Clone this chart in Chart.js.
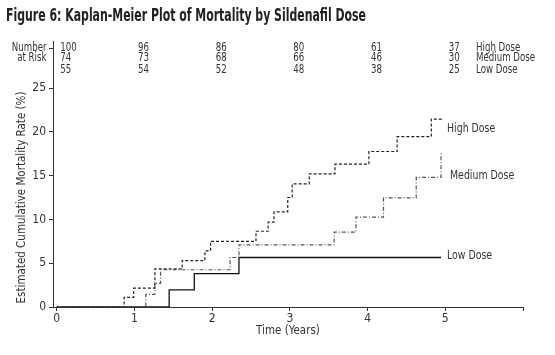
<!DOCTYPE html>
<html>
<head>
<meta charset="utf-8">
<script src="https://cdn.jsdelivr.net/npm/chart.js@4.4.1/dist/chart.umd.min.js"></script>
<style>
  html, body { margin: 0; padding: 0; background: #fff; }
  #wrap { width: 555px; height: 355px; position: relative; }
</style>
</head>
<body>
<div id="wrap"><canvas id="c" width="555" height="355"></canvas></div>
<script>
// ---- Data ----
const highTimes   = [0, 0.867, 0.99, 1.263, 1.615, 1.907, 1.98, 2.564, 2.72, 2.796, 2.973, 3.03, 3.25, 3.58, 4.017, 4.38, 4.82, 4.98];
const highValues  = [0, 1.1, 2.15, 4.35, 5.3, 6.4, 7.5, 8.65, 9.7, 10.85, 12.5, 14.05, 15.2, 16.3, 17.75, 19.45, 21.45, 21.45];
const mediumTimes  = [0, 1.147, 1.263, 1.336, 2.23, 2.345, 3.57, 3.85, 4.205, 4.626, 4.945];
const mediumValues = [0, 1.45, 2.7, 4.25, 5.65, 7.1, 8.55, 10.25, 12.45, 14.8, 17.65];
const lowTimes  = [0, 1.447, 1.77, 2.345, 4.945];
const lowValues = [0, 1.95, 3.8, 5.65, 5.65];

const riskTimes  = [0, 1, 2, 3, 4, 5];
const riskHigh   = [100, 96, 86, 80, 61, 37];
const riskMedium = [74, 73, 68, 66, 46, 30];
const riskLow    = [55, 54, 52, 48, 38, 25];
const seriesNames = ['High Dose', 'Medium Dose', 'Low Dose'];

const xTicks = [0, 1, 2, 3, 4, 5, 6];
const yTicks = [0, 5, 10, 15, 20, 25];

const titleText = 'Figure 6: Kaplan-Meier Plot of Mortality by Sildenafil Dose';

const FONT = "'Liberation Sans Narrow', 'DejaVu Sans Condensed', 'Arial Narrow', sans-serif";
const TXT = '#333';

function pts(ts, vs) { return ts.map((t, i) => ({ x: t, y: vs[i] })); }

// draw text horizontally condensed (to mimic a narrow typeface)
function narrowText(ctx, text, x, y, sx, align) {
  ctx.save();
  ctx.translate(x, y);
  ctx.scale(sx, 1);
  ctx.textAlign = align;
  ctx.fillText(text, 0, 0);
  ctx.restore();
}

const headerPlugin = {
  id: 'header',
  afterDraw(chart) {
    const ctx = chart.ctx;
    const xs = chart.scales.x, ys = chart.scales.y;
    ctx.save();
    // title
    ctx.fillStyle = '#222';
    ctx.font = "bold 18px " + FONT;
    ctx.textBaseline = 'alphabetic';
    const tw = ctx.measureText(titleText).width;
    narrowText(ctx, titleText, 6, 21, 360 / tw, 'left');

    // y axis extension upward + tick
    const ax = ys.right;
    ctx.strokeStyle = '#333';
    ctx.lineWidth = 1;
    ctx.beginPath();
    ctx.moveTo(ax + 0.5, ys.top);
    ctx.lineTo(ax + 0.5, 41);
    ctx.moveTo(ax + 0.5, 48.5);
    ctx.lineTo(ax - 4, 48.5);
    ctx.stroke();

    // number at risk
    ctx.fillStyle = TXT;
    ctx.font = "12px " + FONT;
    ctx.textBaseline = 'middle';
    const SX = 0.8;
    narrowText(ctx, 'Number', ax - 6.5, 47.5, SX, 'right');
    narrowText(ctx, 'at Risk', ax - 6.5, 57.5, SX, 'right');
    const rowsY = [47.5, 58, 70];
    const rows = [riskHigh, riskMedium, riskLow];
    rows.forEach((r, ri) => {
      r.forEach((n, i) => {
        narrowText(ctx, String(n), xs.getPixelForValue(riskTimes[i]) + 3.5, rowsY[ri], SX, 'left');
      });
      narrowText(ctx, seriesNames[ri], 476, rowsY[ri], SX, 'left');
    });

    // curve labels
    ctx.font = "12px " + FONT;
    narrowText(ctx, seriesNames[0], 447, 129, 0.87, 'left');
    narrowText(ctx, seriesNames[1], 450, 176, 0.87, 'left');
    narrowText(ctx, seriesNames[2], 447, 256, 0.87, 'left');
    ctx.restore();
  }
};

new Chart(document.getElementById('c'), {
  type: 'line',
  data: {
    datasets: [
      { label: seriesNames[0], data: pts(highTimes, highValues), stepped: true,
        borderColor: '#222', borderWidth: 1.2, borderDash: [3, 2], pointRadius: 0, fill: false },
      { label: seriesNames[1], data: pts(mediumTimes, mediumValues), stepped: true,
        borderColor: '#555', borderWidth: 1.2, borderDash: [4, 2, 1, 2], pointRadius: 0, fill: false },
      { label: seriesNames[2], data: pts(lowTimes, lowValues), stepped: true,
        borderColor: '#111', borderWidth: 1.3, pointRadius: 0, fill: false }
    ]
  },
  options: {
    responsive: false,
    animation: false,
    devicePixelRatio: 1,
    layout: { padding: { left: 0, top: 88, right: 32, bottom: 0 } },
    plugins: { legend: { display: false }, title: { display: false }, tooltip: { enabled: false } },
    scales: {
      x: {
        type: 'linear', min: -0.048, max: 6,
        afterBuildTicks: s => { s.ticks = xTicks.map(v => ({ value: v })); },
        afterFit: s => { s.height = 48; },
        grid: { drawOnChartArea: false, drawTicks: true, tickLength: 4, color: '#333' },
        border: { display: true, color: '#333', width: 1 },
        ticks: { color: TXT, font: { family: FONT, size: 12 }, padding: 1, maxRotation: 0,
                 callback: v => (v === 6 ? '' : String(v)) },
        title: { display: true, text: 'Time (Years)', color: TXT, font: { family: FONT, size: 11.5 },
                 padding: { top: 0, bottom: 17 } }
      },
      y: {
        type: 'linear', min: 0, max: 25,
        afterBuildTicks: s => { s.ticks = yTicks.map(v => ({ value: v })); },
        afterFit: s => { s.width = 53; },
        grid: { drawOnChartArea: false, drawTicks: true, tickLength: 4, color: '#333' },
        border: { display: true, color: '#333', width: 1 },
        ticks: { color: TXT, font: { family: FONT, size: 12 }, padding: 3 },
        title: { display: true, text: 'Estimated Cumulative Mortality Rate (%)', color: TXT,
                 font: { family: FONT, size: 11.5 }, padding: { top: 15, bottom: 0 } }
      }
    }
  },
  plugins: [headerPlugin]
});
</script>
</body>
</html>
